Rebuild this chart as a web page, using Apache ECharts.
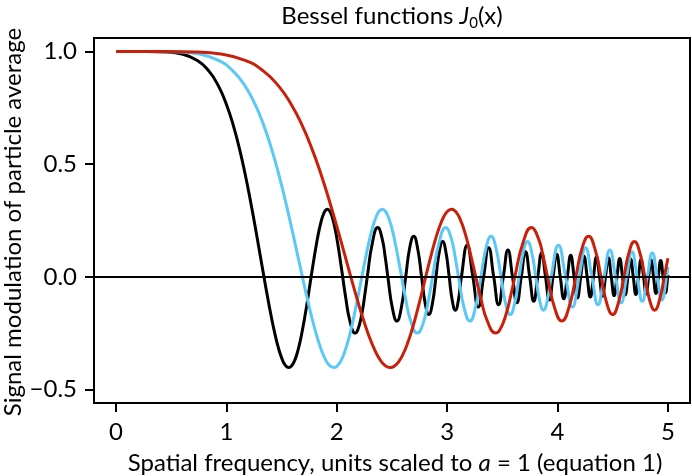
<!DOCTYPE html>
<html>
<head>
<meta charset="utf-8">
<script src="https://cdn.jsdelivr.net/npm/echarts/dist/echarts.min.js"></script>
<style>
html,body{margin:0;padding:0;background:#fff;}
#chart{width:692px;height:476px;}
</style>
</head>
<body>
<div id="chart"></div>
<script>
// J0 values (zeros, extrema and intermediate points)
const j0Values = [1, 0.9999, 0.9975, 0.9900, 0.9604, 0.9120, 0.8463, 0.7652, 0.6711, 0.5669, 0.4554, 0.3400, 0.2239, 0.1104, 0,
  -0.0968, -0.1850, -0.2601, -0.3202, -0.3643, -0.3918, -0.4028, -0.3971, -0.3766, -0.3423, -0.2961, -0.2404, -0.1776, -0.1103, 0,
  0.0917, 0.1506, 0.2017, 0.2433, 0.2740, 0.2931, 0.3001, 0.2951, 0.2786, 0.2516, 0.2154, 0.1717, 0.1222, 0,
  -0.0903, -0.1939, -0.2497, -0.2365, -0.1712, -0.0676, 0, 0.1469, 0.2184, 0.1711, 0.0878, 0,
  -0.1401, -0.1965, -0.136, 0, 0.130, 0.1801, 0.125, 0, -0.120, -0.1672, -0.116, 0, 0.1125, 0.1567, 0.109, 0, -0.106, -0.1480, -0.103, 0,
  0.1406, 0, -0.1342, 0, 0.1286, 0, -0.1237, 0, 0.1193, 0, -0.1153, 0, 0.1117, 0, -0.1084, 0, 0.1054, 0, -0.1026, 0,
  0.1000, 0, -0.0977, 0, 0.0954, 0, -0.0934, 0, 0.0914, 0, -0.0896, 0, 0.0879, 0, -0.0862, 0, 0.0847, 0, -0.0832, 0,
  0.0818, 0, -0.0805, 0, 0.0793, 0, -0.0781, 0, 0.0769, 0, -0.0758, 0, 0.0748, 0, -0.0737, 0, 0.0728, 0, -0.0719, 0];

const blackX = [0, 0.2714, 0.4642, 0.5848, 0.7368, 0.8434, 0.9283, 1.0, 1.0627, 1.1187, 1.1696, 1.2164, 1.2599, 1.3006, 1.3398,
  1.3751, 1.4095, 1.4422, 1.4736, 1.5037, 1.5326, 1.5648, 1.5874, 1.6134, 1.6386, 1.6631, 1.6869, 1.7100, 1.7325, 1.7673,
  1.7967, 1.8171, 1.8371, 1.8566, 1.8758, 1.8945, 1.9143, 1.9310, 1.9487, 1.9661, 1.9832, 2.0, 2.0165, 2.0531,
  2.0801, 2.1179, 2.1668, 2.1898, 2.2240, 2.2572, 2.2761, 2.3208, 2.3707, 2.4101, 2.4385, 2.4624,
  2.5040, 2.5443, 2.5848, 2.6242, 2.6609, 2.6969, 2.7328, 2.7681, 2.8016, 2.8340, 2.8668, 2.8986, 2.9291, 2.9588, 2.9888, 3.0182, 3.0463, 3.0740, 3.1017, 3.1290,
  3.1811, 3.2325, 3.2814, 3.3297, 3.3759, 3.4216, 3.4654, 3.5088, 3.5505, 3.5919, 3.6318, 3.6713, 3.7095, 3.7474, 3.7841, 3.8205, 3.8559, 3.8910, 3.9251, 3.9589,
  3.9919, 4.0246, 4.0565, 4.0883, 4.1192, 4.1500, 4.1800, 4.2099, 4.2391, 4.2682, 4.2966, 4.3249, 4.3526, 4.3802, 4.4072, 4.4341, 4.4605, 4.4867, 4.5125, 4.5382,
  4.5634, 4.5885, 4.6131, 4.6377, 4.6618, 4.6859, 4.7095, 4.7331, 4.7563, 4.7794, 4.8021, 4.8248, 4.8471, 4.8693, 4.8913, 4.9131, 4.9347, 4.9561, 4.9773, 4.9984,
  5.0];

const blueX = [0, 0.3419, 0.5848, 0.7368, 0.9283, 1.0626, 1.1696, 1.2599, 1.3389, 1.4095, 1.4736, 1.5326, 1.5874, 1.6387, 1.6880,
  1.7325, 1.7759, 1.8171, 1.8566, 1.8945, 1.9310, 1.9715, 2.0, 2.0328, 2.0645, 2.0954, 2.1254, 2.1544, 2.1828, 2.2267,
  2.2637, 2.2894, 2.3146, 2.3392, 2.3634, 2.3869, 2.4119, 2.4329, 2.4552, 2.4771, 2.4987, 2.5198, 2.5406, 2.5868,
  2.6207, 2.6684, 2.7300, 2.7590, 2.8020, 2.8439, 2.8677, 2.9240, 2.9869, 3.0365, 3.0723, 3.1024,
  3.1548, 3.2056, 3.2566, 3.3063, 3.3525, 3.3979, 3.4431, 3.4876, 3.5298, 3.5706, 3.6120, 3.6520, 3.6904, 3.7279, 3.7656, 3.8027, 3.8381, 3.8730, 3.9079, 3.9423,
  4.0079, 4.0727, 4.1343, 4.1951, 4.2534, 4.3110, 4.3661, 4.4208, 4.4734, 4.5255, 4.5758, 4.6256, 4.6737, 4.7214, 4.7677, 4.8135, 4.8581, 4.9024, 4.9453, 4.9879,
  5.0];

const redX = [0, 0.4308, 0.7369, 0.9283, 1.1696, 1.3388, 1.4736, 1.5874, 1.6869, 1.7758, 1.8566, 1.9309, 2.0, 2.0646, 2.1268,
  2.1828, 2.2374, 2.2894, 2.3392, 2.3870, 2.4329, 2.4840, 2.5198, 2.5611, 2.6011, 2.6400, 2.6778, 2.7144, 2.7502, 2.8054,
  2.8521, 2.8845, 2.9162, 2.9472, 2.9776, 3.0073, 3.0387, 3.0653, 3.0934, 3.1210, 3.1481, 3.1748, 3.2010, 3.2591,
  3.3019, 3.3619, 3.4396, 3.4761, 3.5304, 3.5831, 3.6131, 3.6840, 3.7632, 3.8258, 3.8709, 3.9088,
  3.9749, 4.0388, 4.1031, 4.1657, 4.2239, 4.2811, 4.3381, 4.3941, 4.4473, 4.4987, 4.5508, 4.6012, 4.6497, 4.6968, 4.7444, 4.7911, 4.8357, 4.8797, 4.9237, 4.9670,
  5.0];

// value of each curve at its last point (x = 5)
const blackEnd = 0.0086;
const blueEnd = 0.0441;
const redEnd = 0.0825;

const xTicks = [0, 1, 2, 3, 4, 5];
const yTicks = [-0.5, 0, 0.5, 1.0];
const yTickLabels = ['\u22120.5', '0.0', '0.5', '1.0'];

function pair(xs, endVal) {
  return xs.map((x, i) => [x, i < xs.length - 1 ? j0Values[i] : endVal]);
}

const FONT = 'Lato';
const FS = 24;
const chart = echarts.init(document.getElementById('chart'), null, {renderer: 'canvas'});
const lineBase = {type: 'line', showSymbol: false, symbol: 'none', smooth: 0.5, animation: false, silent: true};

chart.setOption({
  backgroundColor: '#fff',
  animation: false,
  grid: {left: 94, right: 2, top: 38, bottom: 73, show: true, borderColor: '#000', borderWidth: 2, containLabel: false, outerBoundsMode: 'none'},
  xAxis: {
    type: 'value', min: -0.2, max: 5.2,
    axisLine: {show: false, onZero: false},
    splitLine: {show: false},
    axisTick: {show: true, inside: false, length: 9, customValues: xTicks, lineStyle: {color: '#000', width: 2}},
    axisLabel: {show: true, customValues: xTicks, margin: 17, color: '#000', fontFamily: FONT, fontSize: FS,
      formatter: v => String(v)}
  },
  yAxis: {
    type: 'value', min: -0.56, max: 1.06,
    axisLine: {show: false, onZero: false},
    splitLine: {show: false},
    axisTick: {show: true, inside: false, length: 9, customValues: yTicks, lineStyle: {color: '#000', width: 2}},
    axisLabel: {show: true, customValues: yTicks, margin: 17, color: '#000', fontFamily: FONT, fontSize: FS,
      formatter: v => { const i = yTicks.findIndex(t => Math.abs(t - v) < 1e-9); return i >= 0 ? yTickLabels[i] : ''; }}
  },
  graphic: [
    {type: 'text', x: 392, y: 16, silent: true, style: {
      text: '{n|Bessel functions }{i|J}{s|0}{n|(x)}', align: 'center', verticalAlign: 'middle',
      fontFamily: FONT, fontSize: FS, fill: '#000',
      rich: {
        n: {fontFamily: FONT, fontSize: FS, lineHeight: 30, color: '#000'},
        i: {fontFamily: FONT, fontSize: FS, fontStyle: 'italic', lineHeight: 30, color: '#000'},
        s: {fontFamily: FONT, fontSize: 15, lineHeight: 14, verticalAlign: 'bottom', color: '#000'}
      }}},
    {type: 'text', x: 395, y: 463, silent: true, style: {
      text: '{n|Spatial frequency, units scaled to }{i|a}{n| = 1 (equation 1)}', align: 'center', verticalAlign: 'middle',
      fontFamily: FONT, fontSize: FS, fill: '#000',
      rich: {
        n: {fontFamily: FONT, fontSize: FS, color: '#000'},
        i: {fontFamily: FONT, fontSize: FS, fontStyle: 'italic', color: '#000'}
      }}},
    {type: 'text', x: 13, y: 222, rotation: Math.PI / 2, silent: true, style: {
      text: 'Signal modulation of particle average', align: 'center', verticalAlign: 'middle',
      fontFamily: FONT, fontSize: FS, fill: '#000'}}
  ],
  series: [
    Object.assign({}, lineBase, {name: 'black', data: pair(blackX, blackEnd), lineStyle: {color: '#000000', width: 3}, z: 2}),
    Object.assign({}, lineBase, {name: 'blue', data: pair(blueX, blueEnd), lineStyle: {color: '#5CC8F5', width: 3}, z: 3}),
    Object.assign({}, lineBase, {name: 'red', data: pair(redX, redEnd), lineStyle: {color: '#C8200A', width: 3}, z: 4,
      markLine: {silent: true, symbol: ['none', 'none'], label: {show: false}, animation: false,
        lineStyle: {color: '#000', width: 2, type: 'solid'}, data: [{yAxis: 0}]}})
  ]
});
</script>
</body>
</html>
